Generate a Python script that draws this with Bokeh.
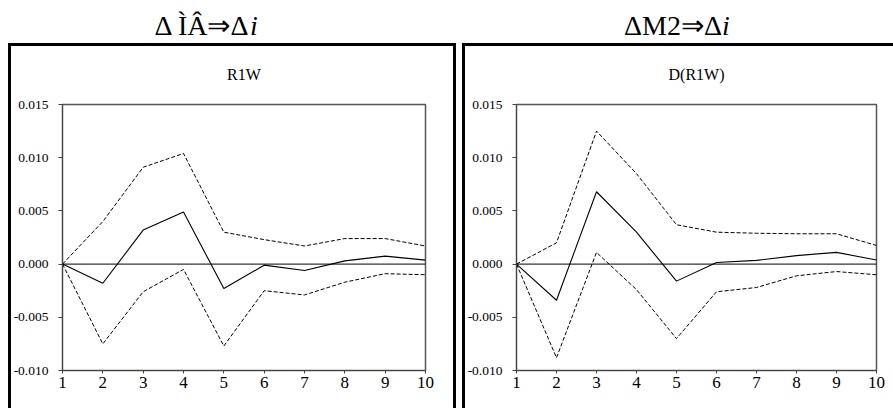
from bokeh.plotting import figure
from bokeh.layouts import row, column
from bokeh.models import Label, Span, FixedTicker, PrintfTickFormatter, Range1d
from bokeh.embed import file_html
from bokeh.resources import INLINE

periods = [1, 2, 3, 4, 5, 6, 7, 8, 9, 10]
y_ticks = [-0.010, -0.005, 0.000, 0.005, 0.010, 0.015]

# Left panel: response of R1W
left_title = "R1W"
left_header = "Δ ÌÂ⇒Δ"
left_irf = [0.0, -0.0018, 0.0032, 0.0049, -0.0023, -0.0001, -0.0006, 0.0003, 0.00075, 0.00037]
left_upper = [0.0, 0.0040, 0.0091, 0.0104, 0.0030, 0.0023, 0.0017, 0.0024, 0.0024, 0.0017]
left_lower = [0.0, -0.0075, -0.0026, -0.0005, -0.0077, -0.0025, -0.0029, -0.0017, -0.0009, -0.0010]

# Right panel: response of D(R1W)
right_title = "D(R1W)"
right_header = "ΔM2⇒Δ"
right_irf = [0.0, -0.0034, 0.0068, 0.0030, -0.0016, 0.00015, 0.00035, 0.0008, 0.0011, 0.00038]
right_upper = [0.0, 0.0020, 0.0125, 0.0085, 0.0037, 0.0030, 0.0029, 0.00285, 0.00285, 0.00175]
right_lower = [0.0, -0.0088, 0.0011, -0.0024, -0.0070, -0.0026, -0.0022, -0.0011, -0.0007, -0.0010]

SERIF = "Liberation Serif"
HEAD_H = 88


def make_header(width, text, split_x, title, title_x):
    h = figure(width=width, height=HEAD_H, x_axis_type=None, y_axis_type=None,
               output_backend="svg", toolbar_location=None, min_border=0)
    h.outline_line_color = None
    h.background_fill_color = None
    h.border_fill_color = None
    h.grid.visible = False
    h.add_layout(Label(x=split_x, y=63, x_units="screen", y_units="screen", text=text,
                       text_align="right", text_baseline="alphabetic",
                       text_font=SERIF, text_font_size="28px", text_color="black"))
    h.add_layout(Label(x=split_x, y=63, x_units="screen", y_units="screen", text="i",
                       text_align="left", text_baseline="alphabetic", text_font_style="italic",
                       text_font=SERIF, text_font_size="28px", text_color="black"))
    h.add_layout(Label(x=title_x, y=14, x_units="screen", y_units="screen", text=title,
                       text_align="center", text_baseline="alphabetic",
                       text_font=SERIF, text_font_size="16px", text_color="black"))
    return h


def make_panel(width, mbl, mbr, irf, upper, lower):
    p = figure(width=width, height=408 - HEAD_H, x_range=Range1d(1, 10), y_range=Range1d(-0.010, 0.015),
               output_backend="svg", toolbar_location=None,
               min_border_left=mbl, min_border_right=mbr, min_border_top=104 - HEAD_H, min_border_bottom=38)
    p.background_fill_color = "white"
    p.border_fill_color = None
    p.outline_line_color = "#555555"
    p.outline_line_width = 1.5
    p.grid.visible = False

    p.xaxis.ticker = FixedTicker(ticks=periods)
    p.yaxis.ticker = FixedTicker(ticks=y_ticks)
    p.yaxis.formatter = PrintfTickFormatter(format="%.3f")
    for ax in (p.xaxis, p.yaxis):
        ax.major_tick_in = 0
        ax.minor_tick_line_color = None
        ax.axis_line_color = "#444444"
        ax.major_tick_line_color = "#444444"
        ax.major_label_text_font = SERIF
        ax.major_label_text_color = "black"
    p.yaxis.major_label_text_font_size = "13.5px"
    p.xaxis.major_label_text_font_size = "17px"
    p.yaxis.major_tick_out = 4
    p.yaxis.major_label_standoff = 10
    p.xaxis.major_tick_out = 3
    p.xaxis.major_label_standoff = 3

    p.add_layout(Span(location=0, dimension="width", line_color="black", line_width=1))

    p.line(periods, upper, line_color="black", line_width=1, line_dash="4 2")
    p.line(periods, lower, line_color="black", line_width=1, line_dash="4 2")
    p.line(periods, irf, line_color="black", line_width=1.1)
    return p


h1 = make_header(459, left_header, 249.5, left_title, 243.5)
h2 = make_header(434, right_header, 262.5, right_title, 237)
p1 = make_panel(459, 62, 34, left_irf, left_upper, left_lower)
p2 = make_panel(434, 57, 17, right_irf, right_upper, right_lower)

box_css = {
    "background-color": "white",
    "background-image": ", ".join(["linear-gradient(#000, #000)"] * 5),
    "background-size": "3px 365px, 448px 3px, 3px 365px, 3px 365px, 431px 3px",
    "background-position": "8px 43px, 8px 43px, 453px 43px, 462px 43px, 462px 43px",
    "background-repeat": "no-repeat",
}

layout = column(row(h1, h2), row(p1, p2), styles=box_css)
open("out.html", "w").write(file_html(layout, INLINE))
